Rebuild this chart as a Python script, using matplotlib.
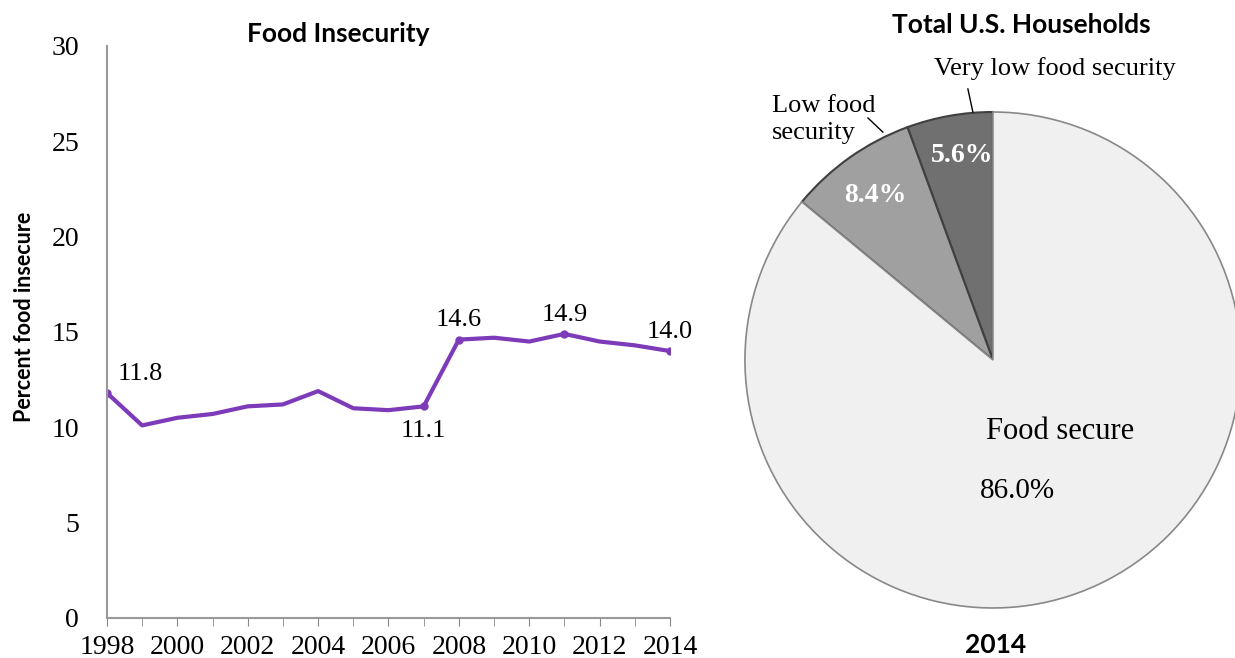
import numpy as np
import matplotlib.pyplot as plt

years = np.arange(1998, 2015)
pct_insecure = [11.8, 10.1, 10.5, 10.7, 11.1, 11.2, 11.9, 11.0, 10.9, 11.1,
                14.6, 14.7, 14.5, 14.9, 14.5, 14.3, 14.0]
labelled_years = [1998, 2007, 2008, 2011, 2014]

pie_labels = ['Very low food security', 'Low food\nsecurity', 'Food secure']
pie_shares = [5.6, 8.4, 86.0]
pie_colors = ['#707070', '#a0a0a0', '#f0f0f0']

serif = 'Liberation Serif'
sans = 'Lato'

fig = plt.figure(figsize=(12.35, 6.58), dpi=100)

# ---- line chart
ax = fig.add_axes([0.0866, 0.0608, 0.4559, 0.8693])
ax.plot(years, pct_insecure, color='#7e3bb9', lw=3, solid_joinstyle='round')
idx = [list(years).index(y) for y in labelled_years]
ax.plot(years[idx], np.array(pct_insecure)[idx], 'o', color='#7e3bb9', ms=5)
offsets = {1998: (8, 6, 'left', 'bottom'), 2007: (0, -10, 'center', 'top'),
           2008: (0, 6, 'center', 'bottom'), 2011: (0, 6, 'center', 'bottom'),
           2014: (0, 6, 'center', 'bottom')}
for i in idx:
    dx, dy, ha, va = offsets[years[i]]
    ax.annotate(f'{pct_insecure[i]:.1f}', (years[i], pct_insecure[i]),
                xytext=(dx, dy), textcoords='offset points', ha=ha, va=va,
                fontsize=19, family=serif)
ax.set_xlim(1998, 2014)
ax.set_ylim(0, 30)
ax.set_xticks(range(1998, 2015, 2))
ax.set_xticks(range(1998, 2015), minor=True)
ax.set_yticks(range(0, 31, 5))
ax.tick_params(axis='x', which='both', length=6, color='#888888', labelsize=20, pad=6)
ax.tick_params(axis='y', length=0, labelsize=20, pad=20)
for lab in ax.get_xticklabels() + ax.get_yticklabels():
    lab.set_family(serif)
for s in ['top', 'right']:
    ax.spines[s].set_visible(False)
for s in ['left', 'bottom']:
    ax.spines[s].set_color('#999999')
    ax.spines[s].set_linewidth(1.5)
ax.set_ylabel('Percent food insecure', fontsize=15.5, fontweight='bold', family=sans)
ax.yaxis.set_label_coords(-0.127, 0.526)
ax.set_title('Food Insecurity', fontsize=19, fontweight='bold', family=sans, pad=3, x=0.41)

# ---- pie chart
pax = fig.add_axes([0.6032, 0.076, 0.4016, 0.7538])
wedges, _ = pax.pie(pie_shares, colors=pie_colors, startangle=90, counterclock=True,
                    wedgeprops=dict(edgecolor='#404040', linewidth=1.5))
wedges[2].set_edgecolor('#888888')
wedges[2].set_linewidth(1.2)
pax.set_xlim(-1, 1)
pax.set_ylim(-1, 1)
pax.set_aspect('equal')
pax.axis('off')

pax.text(-0.125, 0.825, f'{pie_shares[0]}%', color='white', fontsize=20, fontweight='bold',
         family=serif, ha='center', va='center')
pax.text(-0.475, 0.665, f'{pie_shares[1]}%', color='white', fontsize=20, fontweight='bold',
         family=serif, ha='center', va='center')
pax.text(0.27, -0.29, pie_labels[2], fontsize=22, family=serif, ha='center', va='center')
pax.text(0.10, -0.53, f'{pie_shares[2]:.1f}%', fontsize=21, family=serif, ha='center', va='center')

# outside labels with leader lines
pax.text(0.25, 1.13, pie_labels[0], ha='center', va='bottom', fontsize=19, family=serif,
         clip_on=False)
pax.plot([-0.101, -0.081], [1.093, 1.0], color='black', lw=1, clip_on=False)
pax.text(-0.89, 0.97, pie_labels[1], ha='left', va='center', fontsize=19, family=serif,
         linespacing=1.25, clip_on=False)
pax.plot([-0.504, -0.444], [0.976, 0.919], color='black', lw=1, clip_on=False)

fig.text(0.827, 0.962, 'Total U.S. Households', fontsize=19, fontweight='bold', family=sans,
         ha='center', va='center')
fig.text(0.806, 0.02, '2014', fontsize=19, fontweight='bold', family=sans,
         ha='center', va='center')

fig.savefig('out.png', dpi=100)
